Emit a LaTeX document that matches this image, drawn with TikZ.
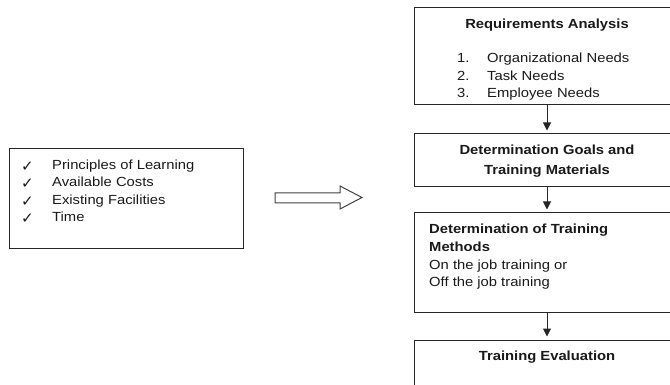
\documentclass[tikz,border=0pt]{standalone}
\usepackage{fontspec}
\setmainfont{Liberation Sans}[FakeStretch=1.12]
\newfontfamily\symfont{DejaVu Sans}
\usetikzlibrary{arrows.meta}
\begin{document}
\begin{tikzpicture}[x=1pt,y=-1pt,
  box/.style={draw=black!85, line width=1pt, inner sep=0pt, outer sep=0pt, anchor=north west},
  txt/.style={inner sep=0pt, font=\fontsize{13.2}{16}\selectfont, text=black!90},
  btxt/.style={inner sep=0pt, font=\fontsize{13.2}{16}\selectfont\bfseries, text=black!90},
  chk/.style={inner sep=0pt, font=\symfont\fontsize{15}{16}\selectfont, text=black!90},
  arr/.style={draw=black!85, line width=1pt, shorten >=3.5pt, -{Triangle[width=8pt,length=8pt]}},
  blockarrow/.style={draw=black!75, line width=1pt, line join=miter}
]
\useasboundingbox (0,0) rectangle (670,385);
\clip (0,0) rectangle (670,385);

% left box
\node[box, minimum width=234pt, minimum height=99pt] (ctx) at (9,149) {};
\node[chk, anchor=base] (c1) at (27.5,171.5) {✓};
\node[chk, anchor=base] (c2) at (27.5,189) {✓};
\node[chk, anchor=base] (c3) at (27.5,206.3) {✓};
\node[chk, anchor=base] (c4) at (27.5,223.6) {✓};
\node[txt, anchor=base west] (t1) at (52,169.5) {Principles of Learning};
\node[txt, anchor=base west] (t2) at (52,187) {Available Costs};
\node[txt, anchor=base west] (t3) at (52,204.3) {Existing Facilities};
\node[txt, anchor=base west] (t4) at (52,221.6) {Time};

% block arrow
\draw[blockarrow] (275,193) -- (340,193) -- (340,186) -- (362,197.5) -- (340,209) -- (340,203) -- (275,203) -- cycle;

% right column boxes
\node[box, minimum width=266pt, minimum height=97pt] (b1) at (414,8) {};
\node[box, minimum width=266pt, minimum height=53pt] (b2) at (414,134) {};
\node[box, minimum width=266pt, minimum height=99pt] (b3) at (414,213) {};
\node[box, minimum width=266pt, minimum height=60pt] (b4) at (414,340) {};

% box 1 text
\node[btxt, anchor=base] (h1) at (547,29) {Requirements Analysis};
\node[txt, anchor=base west] (n1) at (457,63) {1.};
\node[txt, anchor=base west] (n2) at (457,80.5) {2.};
\node[txt, anchor=base west] (n3) at (457,98) {3.};
\node[txt, anchor=base west] (l1) at (487,63) {Organizational Needs};
\node[txt, anchor=base west] (l2) at (487,80.5) {Task Needs};
\node[txt, anchor=base west] (l3) at (487,98) {Employee Needs};

% box 2 text
\node[btxt, anchor=base] (h2a) at (547,154.5) {Determination Goals and};
\node[btxt, anchor=base] (h2b) at (547,174.5) {Training Materials};

% box 3 text
\node[btxt, anchor=base west] (h3a) at (429,233.5) {Determination of Training};
\node[btxt, anchor=base west] (h3b) at (429,251.3) {Methods};
\node[txt, anchor=base west] (m1) at (429,269.3) {On the job training or};
\node[txt, anchor=base west] (m2) at (429,286.6) {Off the job training};

% box 4 text
\node[btxt, anchor=base] (h4) at (547,360) {Training Evaluation};

% connectors
\draw[arr] (b1.south) -- (b2.north);
\draw[arr] (b2.south) -- (b3.north);
\draw[arr] (b3.south) -- (b4.north);
\end{tikzpicture}
\end{document}
